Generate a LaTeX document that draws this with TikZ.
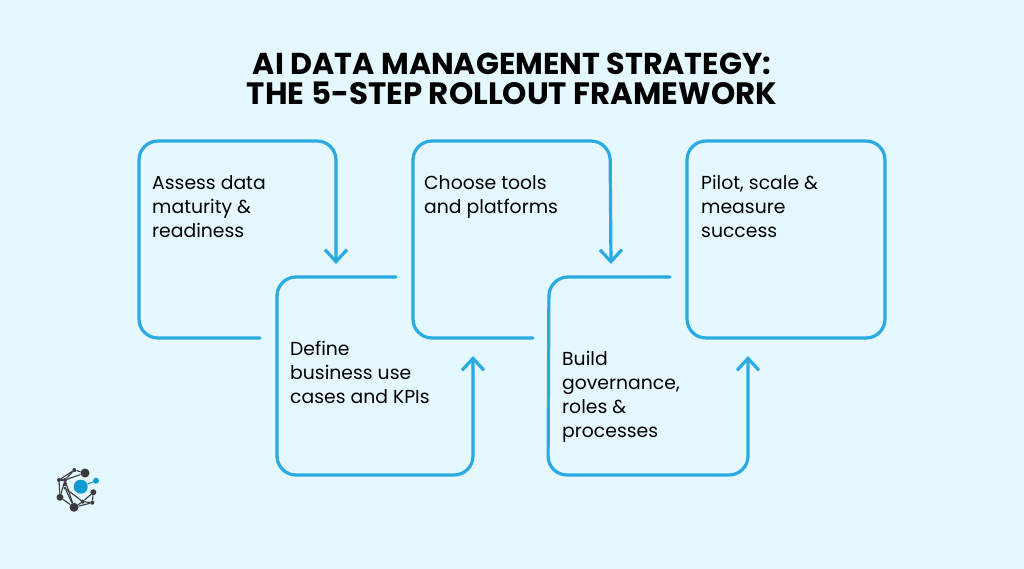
\documentclass[tikz,border=0pt]{standalone}
\usepackage{fontspec}
\setmainfont{Poppins}
\usetikzlibrary{positioning,arrows.meta}
\definecolor{bgblue}{HTML}{E5F8FF}
\definecolor{lineblue}{HTML}{29ABE2}
\definecolor{logoblue}{HTML}{0F9BD1}
\definecolor{logodark}{HTML}{3A3A3C}

\begin{document}
\begin{tikzpicture}[x=1pt,y=-1pt,>={Straight Barb[length=12pt,width=22pt,line width=3.2pt]}]
\tikzset{
steptext/.style={
  anchor=north west,
  align=left,
  inner sep=0pt,
  text=black,
  font=\fontsize{18.8}{24}\selectfont
  },
flowline/.style={
  draw=lineblue,
  line width=3.2pt,
  line cap=round,
  rounded corners=19pt
  },
logodot/.style={
  circle,
  inner sep=0pt,
  fill=logodark
  },
logoline/.style={
  draw=logodark,
  line width=1.1pt
  }
}

\fill[bgblue] (0,0) rectangle (1024,569);
\useasboundingbox (0,0) rectangle (1024,569);

\node (title) [align=center, inner sep=0pt, text=black, font=\fontsize{30.2}{30}\selectfont\bfseries]
  at (512,79) {AI DATA MANAGEMENT STRATEGY:\\\fontsize{30.9}{30}\selectfont THE 5-STEP ROLLOUT FRAMEWORK};

\node (assess) [steptext] at (152,175) {Assess data\\maturity \&\\readiness};
\node (define) [steptext] at (290,341) {Define\\business use\\cases and KPIs};
\node (choose) [steptext] at (424,175) {Choose tools\\and platforms};
\node (build)  [steptext] at (562,351) {Build\\governance,\\roles \&\\processes};
\node (pilot)  [steptext] at (701,175) {Pilot, scale \&\\measure\\success};

\coordinate (a1) at (260,338);
\coordinate (a2) at (336,264);
\coordinate (b1) at (396,277);
\coordinate (b2) at (473,356);
\coordinate (c1) at (533,338);
\coordinate (c2) at (611,264);
\coordinate (d1) at (670,277);
\coordinate (d2) at (748,356);

\draw[flowline,->] (a1) -- (139,338) -- (139,141) -- (336,141) -- (a2);
\draw[flowline,->] (b1) -- (277,277) -- (277,475) -- (473,475) -- (b2);
\draw[flowline,->] (c1) -- (413,338) -- (413,141) -- (610,141) -- (c2);
\draw[flowline,->] (d1) -- (549,277) -- (548,475) -- (748,475) -- (d2);
\draw[flowline] (687,141) rectangle (885,338);

% logo
\node (l1) [logodot, minimum size=9pt] at (85,473) {};
\node (l2) [logodot, minimum size=4pt] at (74.3,470) {};
\node (l3) [logodot, minimum size=4pt] at (59,480) {};
\node (l4) [logodot, minimum size=4pt] at (65,480) {};
\node (l5) [logodot, minimum size=3pt] at (65,488) {};
\node (l6) [logodot, minimum size=7pt] at (60,497.3) {};
\node (l7) [logodot, minimum size=9pt] at (74,507.3) {};
\node (l8) [logodot, minimum size=6pt] at (93.3,492.3) {};
\node (l9) [logodot, minimum size=4pt] at (92.3,502.7) {};
\node (l10) [logodot, minimum size=4pt] at (82.7,501.7) {};
\foreach \a/\b in {l1/l2,l2/l4,l1/l4,l3/l4,l3/l2,l4/l5,l5/l7,l5/l10,l4/l6,l3/l6,l6/l7,l7/l10,l7/l9,l10/l8,l10/l9,l8/l9,l4/l7}
  \draw[logoline] (\a) -- (\b);
\node (lc) [circle, inner sep=0pt, fill=logoblue, minimum size=14pt] at (80.7,486.7) {};
\node (ls) [circle, inner sep=0pt, fill=logoblue, minimum size=6pt] at (96,480.7) {};
\draw[draw=logoblue, line width=1pt] (lc) -- (ls);

\end{tikzpicture}
\end{document}
